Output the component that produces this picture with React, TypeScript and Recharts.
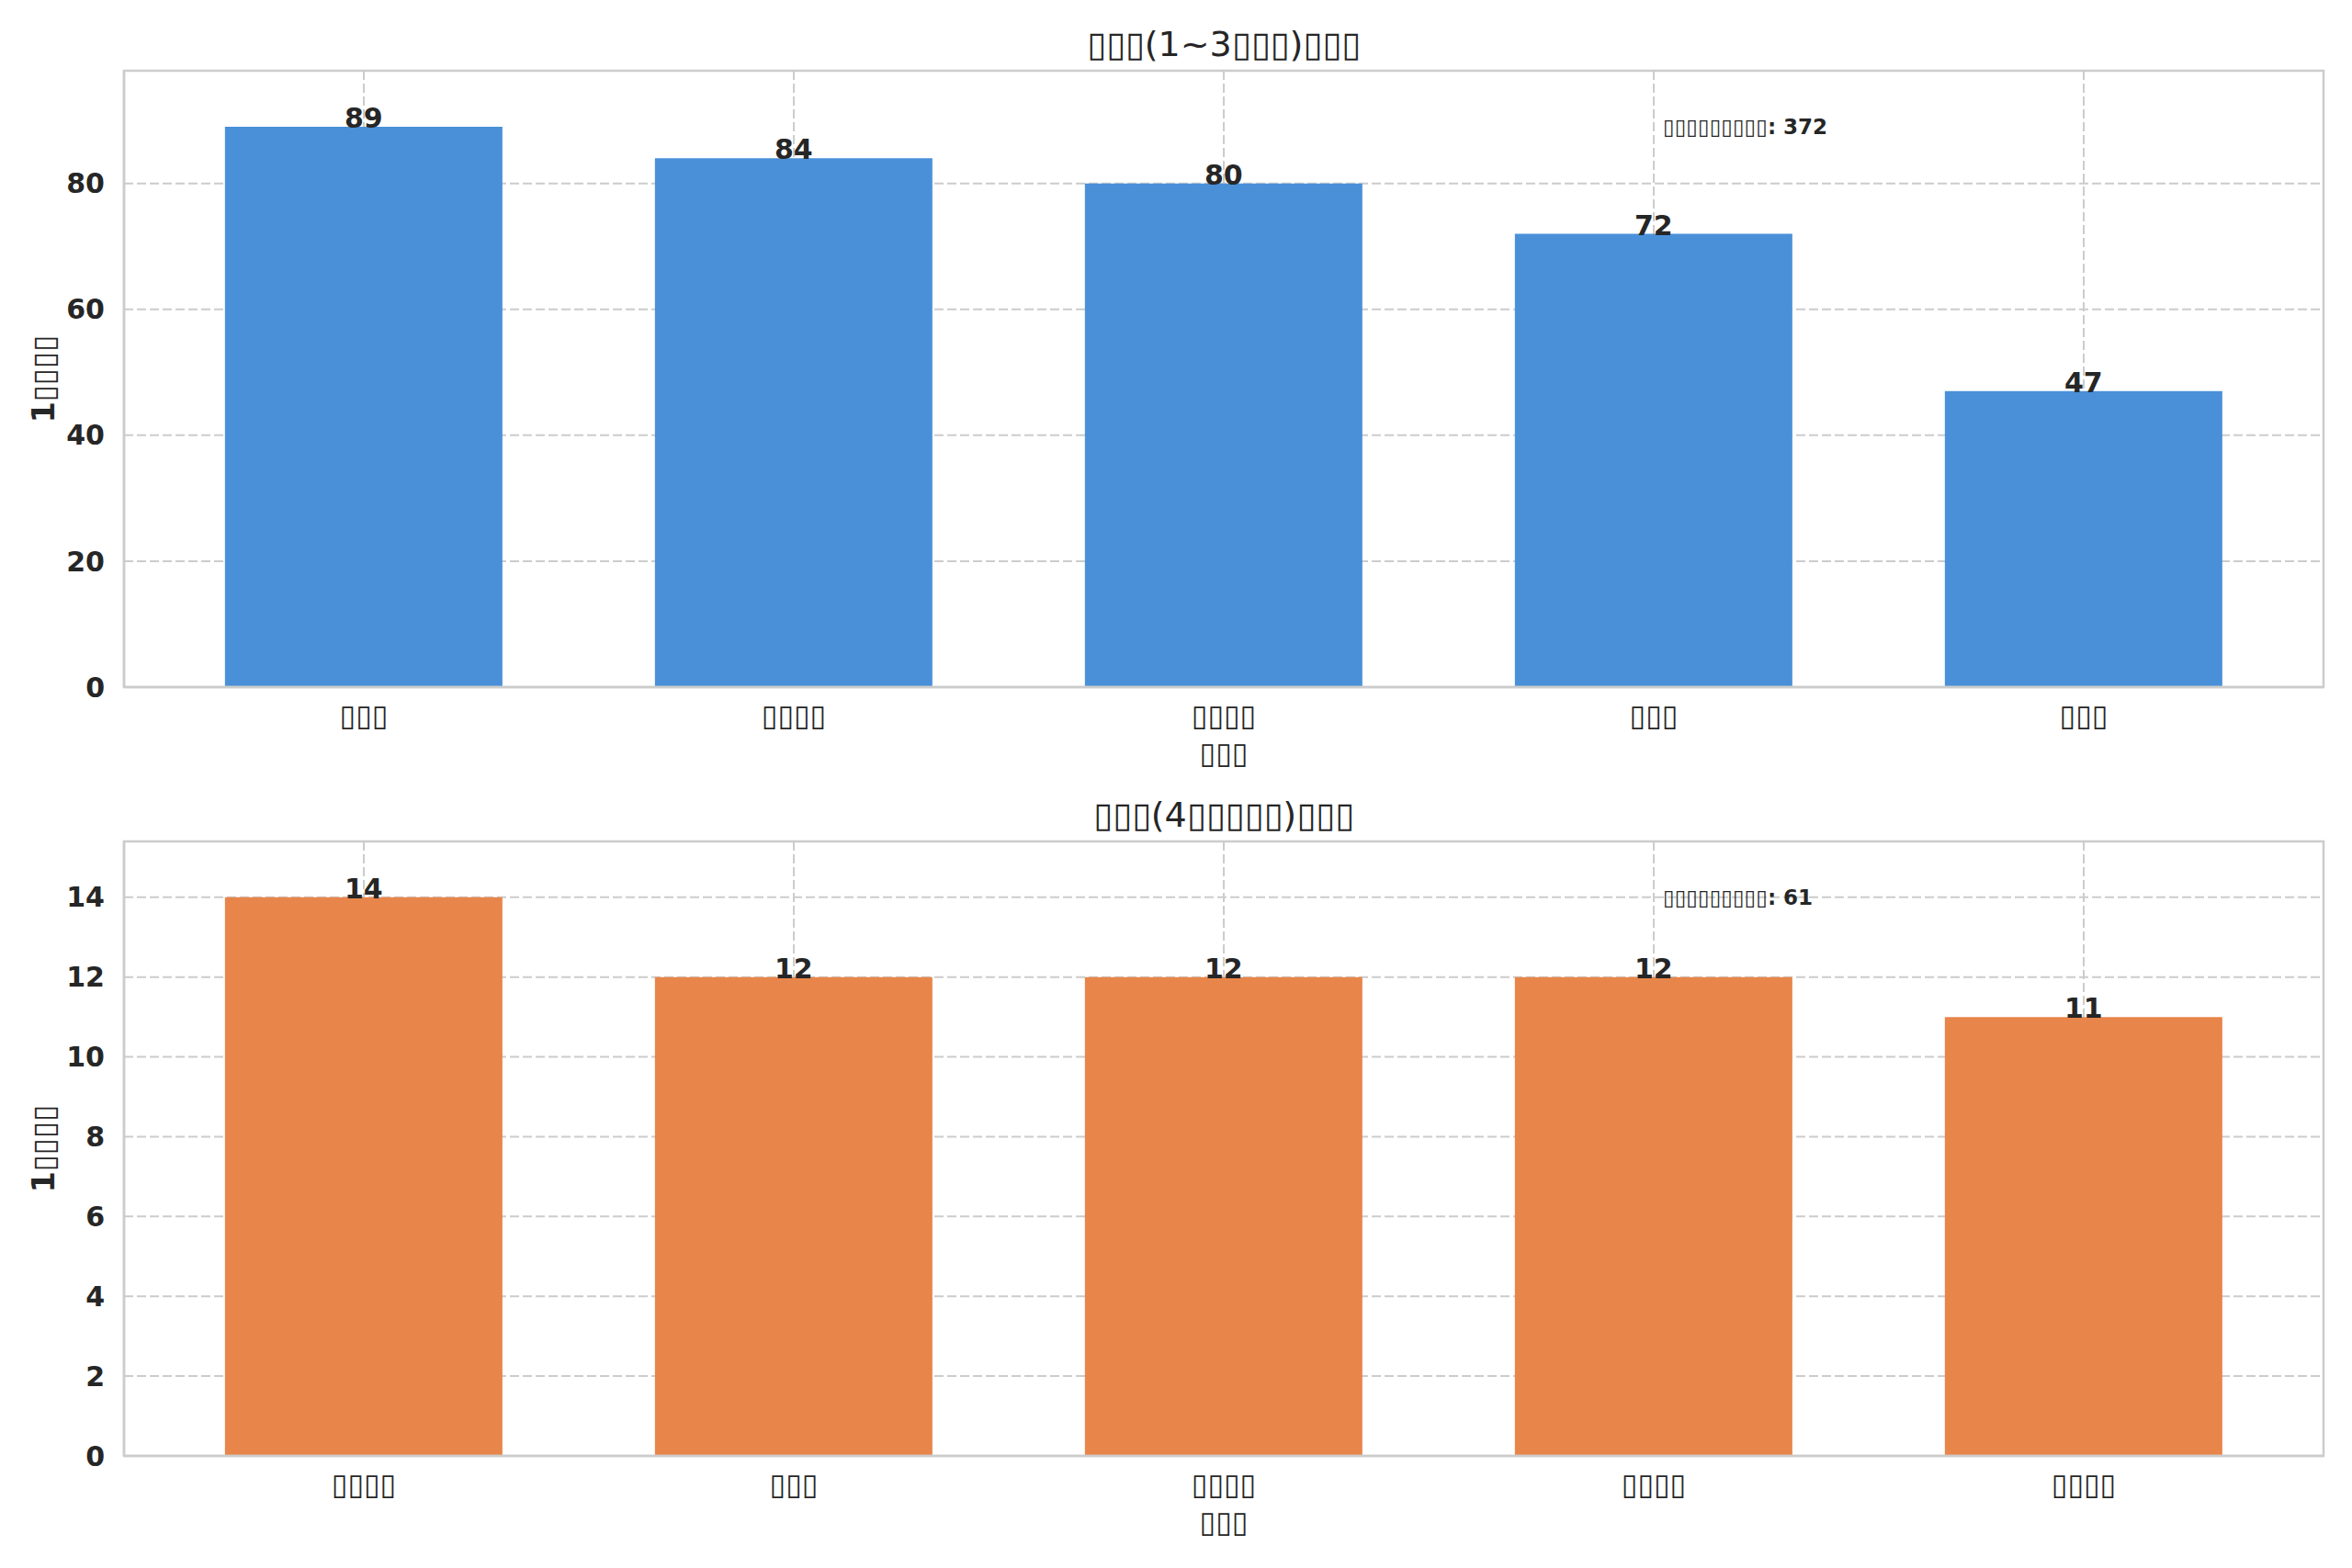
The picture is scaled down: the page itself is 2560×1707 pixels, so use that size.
import React from 'react';
import { BarChart, Bar, XAxis, YAxis, CartesianGrid, LabelList, ReferenceDot } from 'recharts';

const FONT = '"DejaVu Sans", sans-serif';
const TEXT = '#262626';
const EDGE = '#cccccc';

// Text in the reference renders as missing-glyph boxes; reproduced with ▯ glyphs.
const topTitle = '▯▯▯(1~3▯▯▯)▯▯▯';
const bottomTitle = '▯▯▯(4▯▯▯▯▯)▯▯▯';
const yLabel = '1▯▯▯▯';
const xLabel = '▯▯▯';
const totalPrefix = '▯▯▯▯▯▯▯▯▯';

const topCategories = ['▯▯▯', '▯▯▯▯', '▯▯▯▯', '▯▯▯', '▯▯▯'];
const topValues = [89, 84, 80, 72, 47];
const topTicks = [0, 20, 40, 60, 80];

const bottomCategories = ['▯▯▯▯', '▯▯▯', '▯▯▯▯', '▯▯▯▯', '▯▯▯▯'];
const bottomValues = [14, 12, 12, 12, 11];
const bottomTicks = [0, 2, 4, 6, 8, 10, 12, 14];

const TOP_COLOR = '#4A90D9';
const BOTTOM_COLOR = '#E8854A';

const WIDTH = 2560;
const Y_AXIS_W = 135;
const RIGHT_M = 31;

type PanelProps = {
  categories: string[];
  values: number[];
  ticks: number[];
  color: string;
  title: string;
  top: number;
  height: number;
  marginTop: number;
  xAxisHeight: number;
};

function Panel({ categories, values, ticks, color, title, top, height, marginTop, xAxisHeight }: PanelProps) {
  const data = categories.map((name, i) => ({ idx: i, name, value: values[i] }));
  const max = Math.max(...values);
  const total = values.reduce((a, b) => a + b, 0);
  const textStyle = { fill: TEXT, fontFamily: FONT };
  const plotW = WIDTH - Y_AXIS_W - RIGHT_M;
  const plotH = height - marginTop - xAxisHeight;
  return (
    <div style={{ position: 'absolute', left: 0, top, width: WIDTH, height }}>
      <BarChart
        width={WIDTH}
        height={height}
        data={data}
        margin={{ top: marginTop, right: RIGHT_M, bottom: 0, left: 0 }}
        barCategoryGap="17.7%"
      >
        <CartesianGrid stroke={EDGE} strokeWidth={2} strokeDasharray="10 4" />
        <XAxis
          dataKey="idx"
          type="category"
          tickFormatter={(i: number) => categories[i]}
          padding={{ left: 27, right: 27 }}
          height={xAxisHeight}
          tickLine={false}
          tickMargin={13}
          axisLine={{ stroke: EDGE, strokeWidth: 2.5 }}
          tick={{ ...textStyle, fontSize: 32, fontWeight: 'bold' }}
          label={{ value: xLabel, position: 'insideTop', offset: 60, ...textStyle, fontSize: 32, fontWeight: 'bold' }}
        />
        <YAxis
          width={Y_AXIS_W}
          domain={[0, max * 1.1]}
          ticks={ticks}
          tickLine={false}
          tickMargin={15}
          axisLine={{ stroke: EDGE, strokeWidth: 2.5 }}
          tick={{ ...textStyle, fontSize: 30, fontWeight: 'bold' }}
          label={{
            value: yLabel,
            angle: -90,
            position: 'insideLeft',
            offset: 47,
            ...textStyle,
            fontSize: 33,
            fontWeight: 'bold',
            style: { textAnchor: 'middle' },
          }}
        />
        <Bar dataKey="value" fill={color} isAnimationActive={false}>
          <LabelList
            dataKey="value"
            position="top"
            offset={-1}
            fill={TEXT}
            fontFamily={FONT}
            fontSize={30}
            fontWeight="bold"
          />
        </Bar>
        <ReferenceDot
          x={3}
          y={max}
          r={0}
          fill="none"
          stroke="none"
          label={{
            value: `${totalPrefix}: ${total}`,
            position: 'right',
            offset: 10,
            ...textStyle,
            fontSize: 23,
            fontWeight: 'bold',
          }}
        />
      </BarChart>
      <svg
        width={WIDTH}
        height={height}
        style={{ position: 'absolute', left: 0, top: 0, pointerEvents: 'none' }}
      >
        <rect x={Y_AXIS_W} y={marginTop} width={plotW} height={plotH} fill="none" stroke={EDGE} strokeWidth={2.5} />
        <text
          x={Y_AXIS_W + plotW / 2}
          y={marginTop - 16}
          textAnchor="middle"
          fill={TEXT}
          fontFamily={FONT}
          fontSize={38}
        >
          {title}
        </text>
      </svg>
    </div>
  );
}

export default function App() {
  return (
    <div style={{ position: 'absolute', left: 0, top: 0, width: WIDTH, height: 1707, background: '#ffffff' }}>
      <Panel
        categories={topCategories}
        values={topValues}
        ticks={topTicks}
        color={TOP_COLOR}
        title={topTitle}
        top={0}
        height={853}
        marginTop={77}
        xAxisHeight={105}
      />
      <Panel
        categories={bottomCategories}
        values={bottomValues}
        ticks={bottomTicks}
        color={BOTTOM_COLOR}
        title={bottomTitle}
        top={853}
        height={854}
        marginTop={63}
        xAxisHeight={122}
      />
    </div>
  );
}
